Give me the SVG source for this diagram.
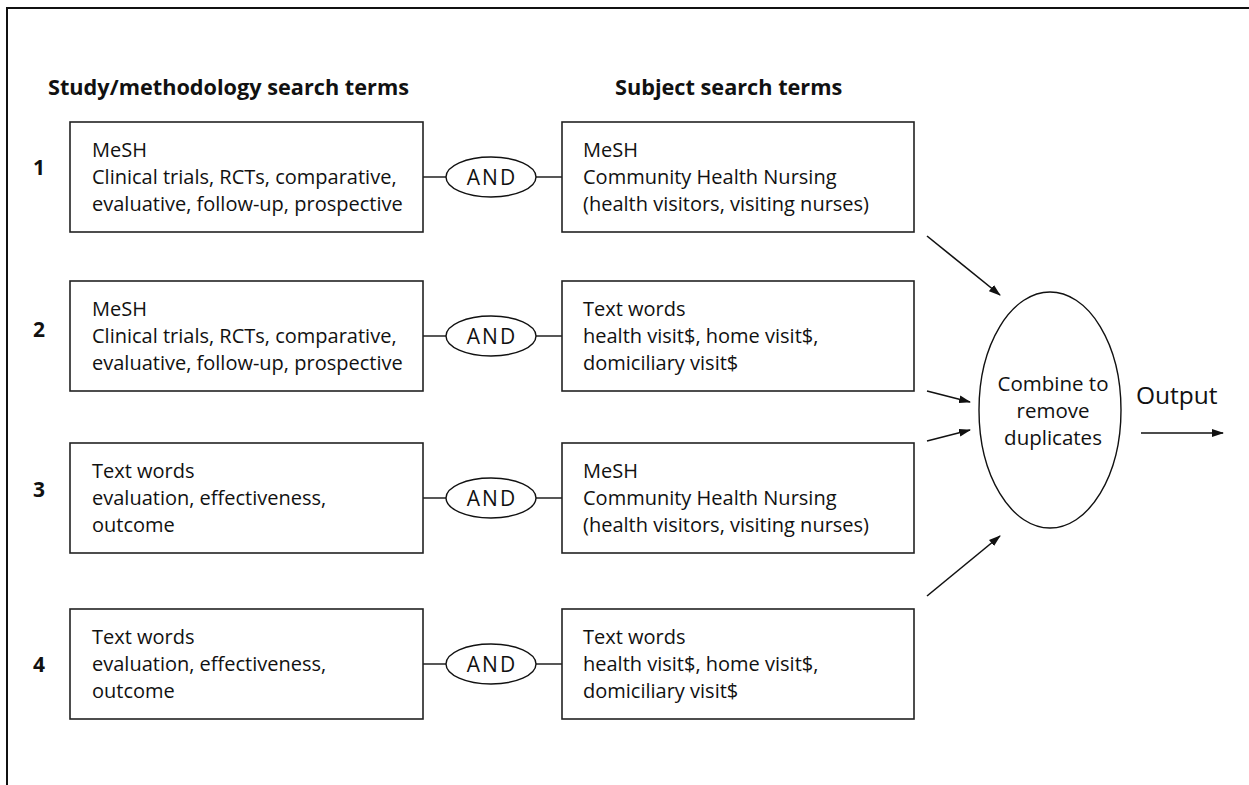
<svg xmlns="http://www.w3.org/2000/svg" width="1249" height="785" viewBox="0 0 1249 785">
  <style>
    .frame { fill: none; stroke: #111; stroke-width: 2; }
    .box { fill: #fff; stroke: #222; stroke-width: 1.6; }
    .oval { fill: #fff; stroke: #111; stroke-width: 1.4; }
    .link { fill: none; stroke: #111; stroke-width: 1.4; }
    .arrow { fill: none; stroke: #111; stroke-width: 1.6; marker-end: url(#head); }
    text { font-family: "Open Sans", "Noto Sans", sans-serif; fill: #111; }
    .body { font-size: 20px; }
    .head { font-size: 21.7px; font-weight: bold; }
    .num { font-size: 21px; font-weight: bold; }
    .and { font-size: 21px; letter-spacing: 2px; text-anchor: middle; }
    .mid { font-size: 20.5px; text-anchor: middle; }
    .out { font-size: 24.5px; }
  </style>
  <defs>
    <marker id="head" viewBox="0 0 12 8" refX="11" refY="4" markerWidth="12" markerHeight="8" markerUnits="userSpaceOnUse" orient="auto">
      <path d="M0,0 L12,4 L0,8 Z" fill="#111"/>
    </marker>
  </defs>

  <rect width="1249" height="785" fill="#fff"/>
  <!-- frame: top rule and left rule only -->
  <path class="frame" d="M7,785 V8 H1249"/>

  <!-- column headings -->
  <text class="head" x="48" y="95">Study/methodology search terms</text>
  <text class="head" x="615" y="95">Subject search terms</text>

  <!-- row numbers -->
  <text class="num" x="33" y="175">1</text>
  <text class="num" x="33" y="337">2</text>
  <text class="num" x="33" y="497">3</text>
  <text class="num" x="33" y="672">4</text>

  <!-- connectors -->
  <g id="connectors">
    <line class="link" x1="423" y1="177" x2="446" y2="177"/>
    <line class="link" x1="536" y1="177" x2="562" y2="177"/>
    <line class="link" x1="423" y1="336" x2="446" y2="336"/>
    <line class="link" x1="536" y1="336" x2="562" y2="336"/>
    <line class="link" x1="423" y1="498" x2="446" y2="498"/>
    <line class="link" x1="536" y1="498" x2="562" y2="498"/>
    <line class="link" x1="423" y1="664" x2="446" y2="664"/>
    <line class="link" x1="536" y1="664" x2="562" y2="664"/>
    <line class="arrow" x1="927" y1="236" x2="1000" y2="295"/>
    <line class="arrow" x1="927" y1="391" x2="970" y2="402"/>
    <line class="arrow" x1="927" y1="441" x2="970" y2="430"/>
    <line class="arrow" x1="927" y1="596" x2="1000" y2="536"/>
    <line class="arrow" x1="1141" y1="433" x2="1223" y2="433"/>
  </g>

  <!-- row 1 -->
  <g id="method1">
    <rect class="box" x="70" y="122" width="353" height="110"/>
    <text class="body" x="92" y="157">MeSH</text>
    <text class="body" x="92" y="184">Clinical trials, RCTs, comparative,</text>
    <text class="body" x="92" y="211">evaluative, follow-up, prospective</text>
  </g>
  <g id="and1">
    <ellipse class="oval" cx="491" cy="177" rx="45" ry="20"/>
    <text class="and" x="492" y="184.5">AND</text>
  </g>
  <g id="subject1">
    <rect class="box" x="562" y="122" width="352" height="110"/>
    <text class="body" x="583" y="157">MeSH</text>
    <text class="body" x="583" y="184">Community Health Nursing</text>
    <text class="body" x="583" y="211">(health visitors, visiting nurses)</text>
  </g>

  <!-- row 2 -->
  <g id="method2">
    <rect class="box" x="70" y="281" width="353" height="110"/>
    <text class="body" x="92" y="316">MeSH</text>
    <text class="body" x="92" y="343">Clinical trials, RCTs, comparative,</text>
    <text class="body" x="92" y="370">evaluative, follow-up, prospective</text>
  </g>
  <g id="and2">
    <ellipse class="oval" cx="491" cy="336" rx="45" ry="20"/>
    <text class="and" x="492" y="343.5">AND</text>
  </g>
  <g id="subject2">
    <rect class="box" x="562" y="281" width="352" height="110"/>
    <text class="body" x="583" y="316">Text words</text>
    <text class="body" x="583" y="343">health visit$, home visit$,</text>
    <text class="body" x="583" y="370">domiciliary visit$</text>
  </g>

  <!-- row 3 -->
  <g id="method3">
    <rect class="box" x="70" y="443" width="353" height="110"/>
    <text class="body" x="92" y="478">Text words</text>
    <text class="body" x="92" y="505">evaluation, effectiveness,</text>
    <text class="body" x="92" y="532">outcome</text>
  </g>
  <g id="and3">
    <ellipse class="oval" cx="491" cy="498" rx="45" ry="20"/>
    <text class="and" x="492" y="505.5">AND</text>
  </g>
  <g id="subject3">
    <rect class="box" x="562" y="443" width="352" height="110"/>
    <text class="body" x="583" y="478">MeSH</text>
    <text class="body" x="583" y="505">Community Health Nursing</text>
    <text class="body" x="583" y="532">(health visitors, visiting nurses)</text>
  </g>

  <!-- row 4 -->
  <g id="method4">
    <rect class="box" x="70" y="609" width="353" height="110"/>
    <text class="body" x="92" y="644">Text words</text>
    <text class="body" x="92" y="671">evaluation, effectiveness,</text>
    <text class="body" x="92" y="698">outcome</text>
  </g>
  <g id="and4">
    <ellipse class="oval" cx="491" cy="664" rx="45" ry="20"/>
    <text class="and" x="492" y="671.5">AND</text>
  </g>
  <g id="subject4">
    <rect class="box" x="562" y="609" width="352" height="110"/>
    <text class="body" x="583" y="644">Text words</text>
    <text class="body" x="583" y="671">health visit$, home visit$,</text>
    <text class="body" x="583" y="698">domiciliary visit$</text>
  </g>

  <!-- merge step -->
  <g id="combine">
    <ellipse class="oval" cx="1050" cy="410" rx="71" ry="118"/>
    <text class="mid" x="1053" y="391">Combine to</text>
    <text class="mid" x="1053" y="418">remove</text>
    <text class="mid" x="1053" y="445">duplicates</text>
  </g>
  <g id="output">
    <text class="out" x="1136" y="404">Output</text>
  </g>
</svg>
